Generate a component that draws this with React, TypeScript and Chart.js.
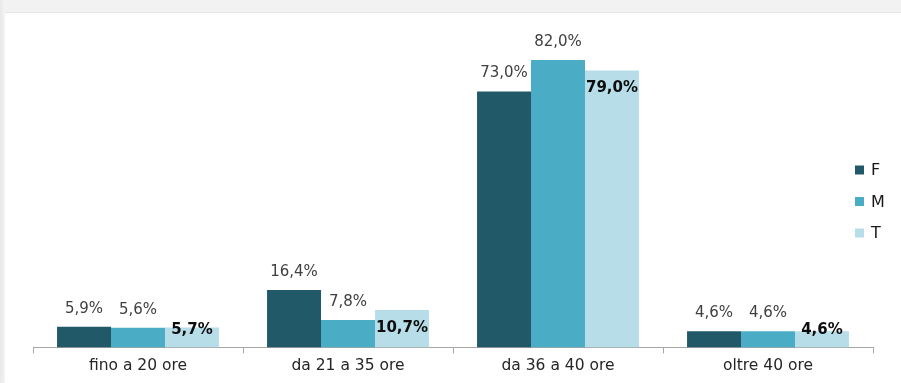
import React, { useEffect, useRef } from "react";
import { Chart, registerables } from "chart.js";

Chart.register(...registerables);

const categories = ["fino a 20 ore", "da 21 a 35 ore", "da 36 a 40 ore", "oltre 40 ore"];
const seriesF = [5.9, 16.4, 73.0, 4.6];
const seriesM = [5.6, 7.8, 82.0, 4.6];
const seriesT = [5.7, 10.7, 79.0, 4.6];
const seriesNames = ["F", "M", "T"];
const colors = ["#215968", "#4BACC6", "#B7DEE8"];

const FONT = "'DejaVu Sans', 'Open Sans', sans-serif";

const fmt = (v: number) => v.toFixed(1).replace(".", ",") + "%";

const labelPlugin = {
  id: "barLabels",
  afterDatasetsDraw(chart: any) {
    const ctx = chart.ctx;
    const bottom = chart.chartArea.bottom;
    ctx.save();
    ctx.textAlign = "center";
    ctx.textBaseline = "middle";
    chart.data.datasets.forEach((ds: any, di: number) => {
      const meta = chart.getDatasetMeta(di);
      meta.data.forEach((bar: any, i: number) => {
        const v = ds.data[i];
        if (di < 2) {
          ctx.font = `15px ${FONT}`;
          ctx.fillStyle = "#404040";
          ctx.fillText(fmt(v), bar.x, bar.y - 18);
        } else {
          ctx.font = `bold 15px ${FONT}`;
          ctx.fillStyle = "#0d0d0d";
          ctx.fillText(fmt(v), bar.x, Math.min(bar.y + 18, bottom - 17));
        }
      });
    });
    ctx.restore();
  },
};

const legendPlugin = {
  id: "customLegend",
  afterDraw(chart: any) {
    const ctx = chart.ctx;
    ctx.save();
    ctx.textBaseline = "middle";
    ctx.textAlign = "left";
    ctx.font = `16px ${FONT}`;
    chart.data.datasets.forEach((ds: any, di: number) => {
      const cy = 170 + di * 31.5;
      ctx.fillStyle = ds.backgroundColor;
      ctx.fillRect(855, cy - 4.5, 9, 9);
      ctx.fillStyle = "#1a1a1a";
      ctx.fillText(ds.label, 871, cy + 1);
    });
    ctx.restore();
  },
};

export default function App() {
  const ref = useRef<HTMLCanvasElement>(null);
  useEffect(() => {
    const chart = new Chart(ref.current!, {
      type: "bar",
      data: {
        labels: categories,
        datasets: [seriesF, seriesM, seriesT].map((d, i) => ({
          label: seriesNames[i],
          data: d,
          backgroundColor: colors[i],
          borderWidth: 0,
          categoryPercentage: 0.771,
          barPercentage: 1,
        })),
      },
      options: {
        animation: false,
        responsive: false,
        maintainAspectRatio: false,
        layout: { padding: { left: 33, right: 28, top: 32, bottom: 5 } },
        plugins: { legend: { display: false }, tooltip: { enabled: false } },
        scales: {
          x: {
            grid: {
              offset: true,
              drawOnChartArea: false,
              tickLength: 6,
              color: "#a6a6a6",
            },
            border: { color: "#a6a6a6", width: 1 },
            ticks: {
              color: "#262626",
              font: { family: FONT, size: 15.5 },
              padding: 3,
            },
          },
          y: {
            display: false,
            min: 0,
            max: 90,
          },
        },
      },
      plugins: [labelPlugin, legendPlugin],
    });
    return () => chart.destroy();
  }, []);

  return (
    <div
      style={{
        position: "fixed",
        left: 0,
        top: 0,
        width: 901,
        height: 383,
        background: "#f2f2f2",
        overflow: "hidden",
      }}
    >
      <div
        style={{
          position: "absolute",
          left: 0,
          top: 0,
          width: 6,
          height: 383,
          background: "linear-gradient(to right, #e8e8e8, #f6f6f6)",
        }}
      />
      <div
        style={{
          position: "absolute",
          left: 5,
          top: 12,
          width: 896,
          height: 371,
          background: "#ffffff",
          borderTop: "1px solid #e6e6e6",
          boxSizing: "border-box",
        }}
      />
      <canvas
        ref={ref}
        width={901}
        height={383}
        style={{ position: "absolute", left: 0, top: 0, width: 901, height: 383 }}
      />
    </div>
  );
}
